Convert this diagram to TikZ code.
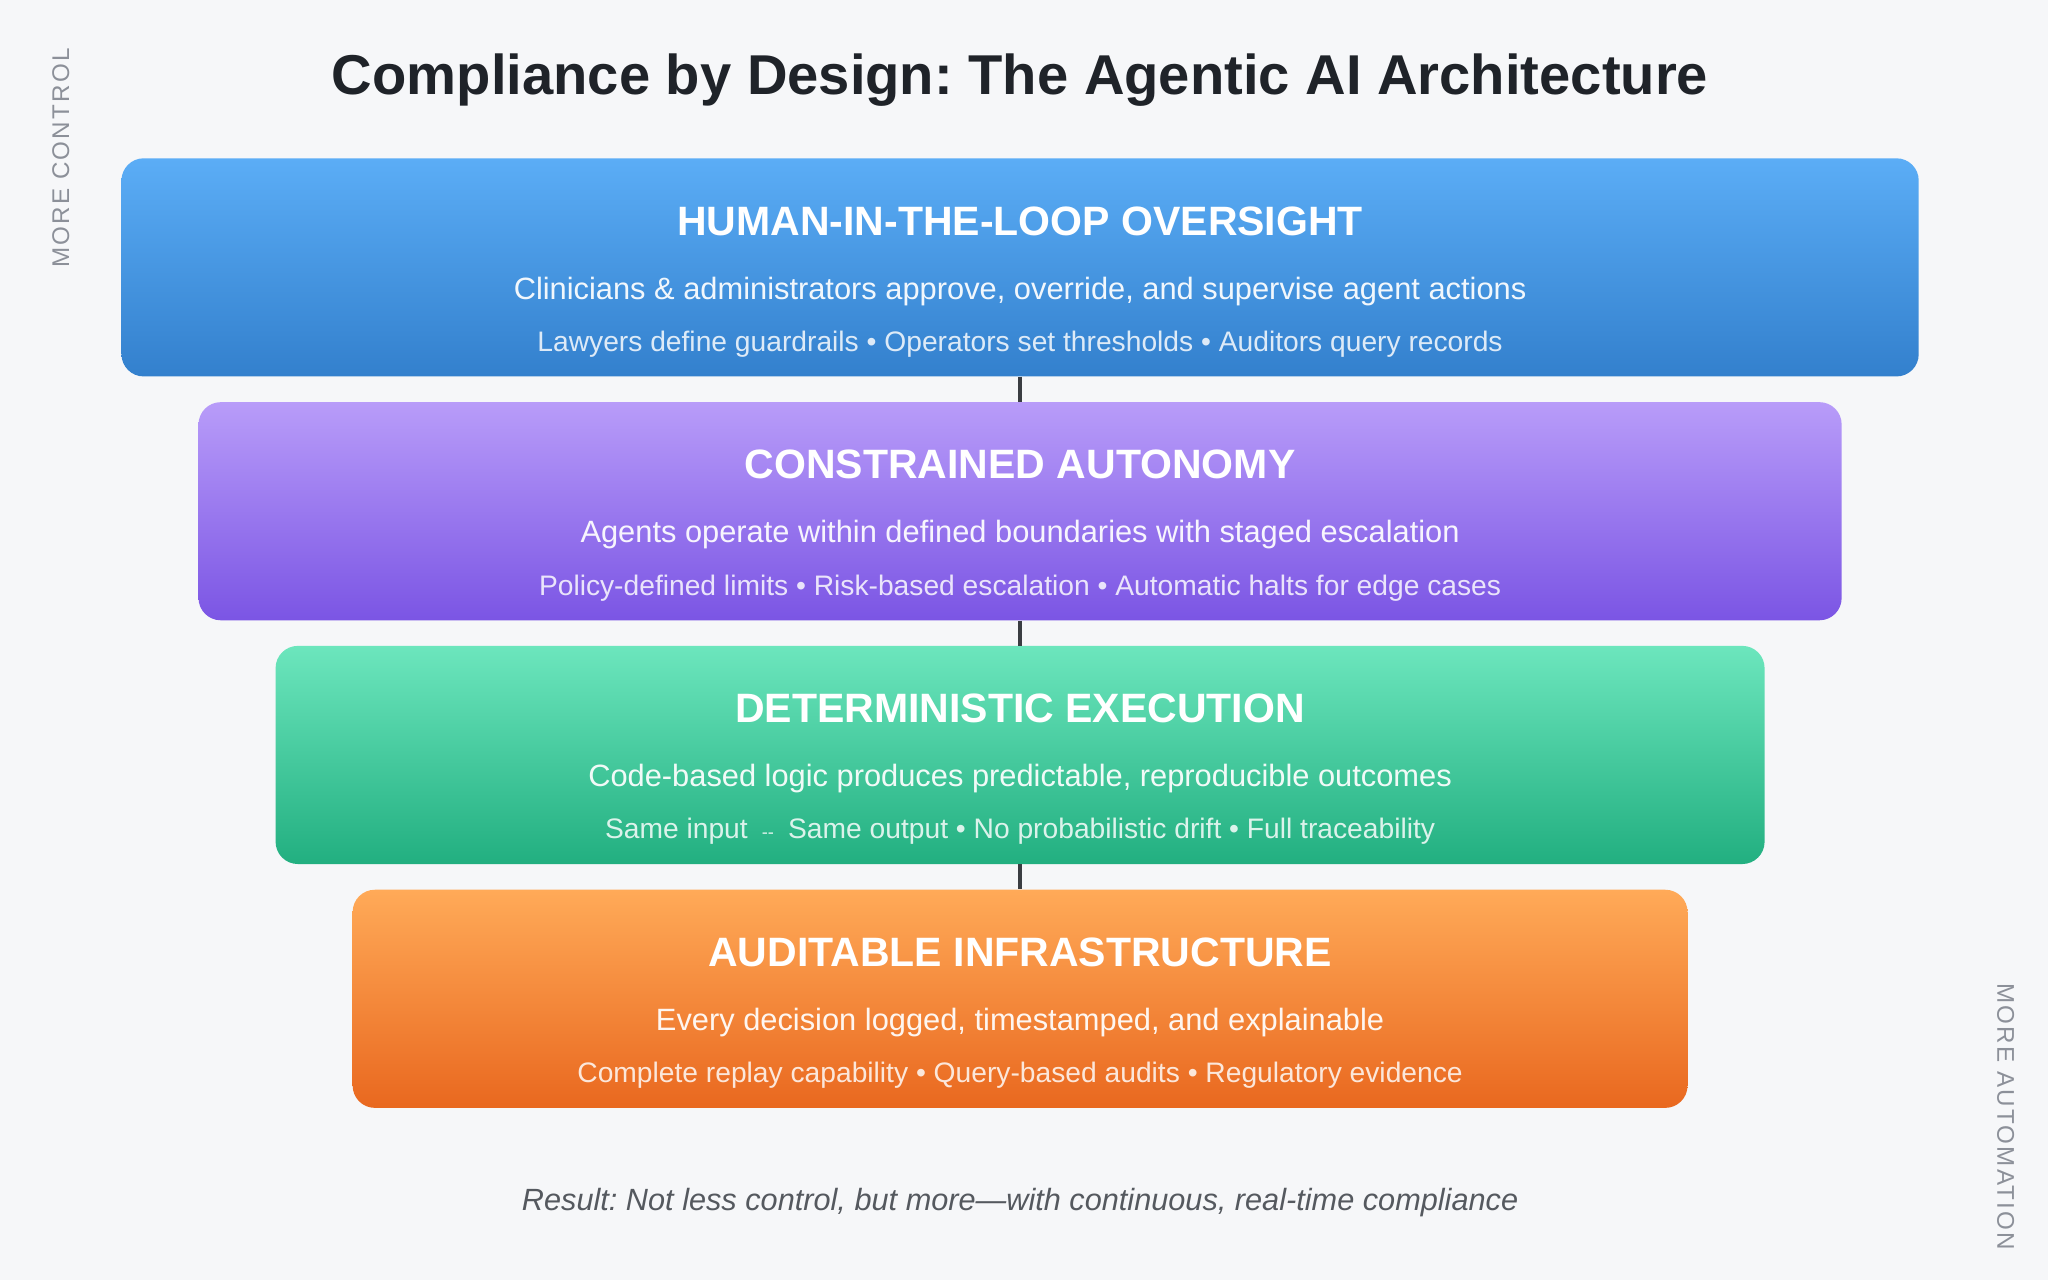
\documentclass[tikz,border=0pt]{standalone}
\usepackage{fontspec}
\setmainfont{Liberation Sans}
\newfontfamily\spacedfont[LetterSpace=9]{Liberation Sans}
\frenchspacing
\definecolor{bgc}{HTML}{F6F7F9}
\definecolor{titlec}{HTML}{1F2329}
\definecolor{sidec}{HTML}{8C9099}
\definecolor{footc}{HTML}{55595F}
\definecolor{linkc}{HTML}{3A3D42}
\definecolor{blueT}{HTML}{5BADF6}
\definecolor{blueB}{HTML}{3380CD}
\definecolor{purpT}{HTML}{B89CF9}
\definecolor{purpB}{HTML}{7B55E4}
\definecolor{greenT}{HTML}{6CE6BD}
\definecolor{greenB}{HTML}{22AF80}
\definecolor{orT}{HTML}{FFAA58}
\definecolor{orB}{HTML}{E9681F}
\tikzset{
  layer/.style={rectangle, rounded corners=17pt, minimum height=167pt, inner sep=0pt, draw=none, anchor=north},
  headtxt/.style={anchor=base, text=white, font=\fontsize{31.4}{35}\selectfont\bfseries, inner sep=0pt},
  desctxt/.style={anchor=base, text=white, text opacity=0.93, font=\fontsize{23.6}{27}\selectfont, inner sep=0pt},
  subtxt/.style={anchor=base, text=white, text opacity=0.83, font=\fontsize{21.6}{25}\selectfont, inner sep=0pt},
  sidetxt/.style={text=sidec, font=\fontsize{18.5}{20}\selectfont\spacedfont, inner sep=0pt},
  link/.style={draw=linkc, line width=2.6pt}
}
\begin{document}
\begin{tikzpicture}[x=1pt,y=-1pt]
\fill[bgc] (0,0) rectangle (1568,980);
\useasboundingbox (0,0) rectangle (1568,980);

\node[anchor=base, text=titlec, font=\fontsize{43}{48}\selectfont\bfseries, inner sep=0pt] (title) at (781,72) {Compliance by Design: The Agentic AI Architecture};

\node[layer, minimum width=1376pt, top color=blueT, bottom color=blueB] (b1) at (781,121) {};
\node[layer, minimum width=1258pt, top color=purpT, bottom color=purpB] (b2) at (781,307.7) {};
\node[layer, minimum width=1140pt, top color=greenT, bottom color=greenB] (b3) at (781,494.3) {};
\node[layer, minimum width=1022pt, top color=orT, bottom color=orB] (b4) at (781,681) {};

\draw[link] (b1.south) -- (b2.north);
\draw[link] (b2.south) -- (b3.north);
\draw[link] (b3.south) -- (b4.north);

\node[headtxt] (h1) at ([yshift=-59pt]b1.north) {HUMAN-IN-THE-LOOP OVERSIGHT};
\node[desctxt] (d1) at ([yshift=-108pt]b1.north) {Clinicians \& administrators approve, override, and supervise agent actions};
\node[subtxt] (s1) at ([yshift=-148pt]b1.north) {Lawyers define guardrails • Operators set thresholds • Auditors query records};

\node[headtxt] (h2) at ([yshift=-59pt]b2.north) {CONSTRAINED AUTONOMY};
\node[desctxt] (d2) at ([yshift=-108pt]b2.north) {Agents operate within defined boundaries with staged escalation};
\node[subtxt] (s2) at ([yshift=-148pt]b2.north) {Policy-defined limits • Risk-based escalation • Automatic halts for edge cases};

\node[headtxt] (h3) at ([yshift=-59pt]b3.north) {DETERMINISTIC EXECUTION};
\node[desctxt] (d3) at ([yshift=-108pt]b3.north) {Code-based logic produces predictable, reproducible outcomes};
\node[subtxt] (s3) at ([yshift=-148pt]b3.north) {Same input\hspace{0.5em}{\fontsize{14}{14}\selectfont -{}-}\hspace{0.5em}Same output • No probabilistic drift • Full traceability};

\node[headtxt] (h4) at ([yshift=-59pt]b4.north) {AUDITABLE INFRASTRUCTURE};
\node[desctxt] (d4) at ([yshift=-108pt]b4.north) {Every decision logged, timestamped, and explainable};
\node[subtxt] (s4) at ([yshift=-148pt]b4.north) {Complete replay capability • Query-based audits • Regulatory evidence};

\node[anchor=base, text=footc, font=\fontsize{23.5}{27}\selectfont\itshape, inner sep=0pt] (foot) at (781,927) {Result: Not less control, but more—with continuous, real-time compliance};

\node[sidetxt, rotate=90] (ctrl) at (46.5,121) {MORE CONTROL};
\node[sidetxt, rotate=-90] (auto) at (1535.5,855) {MORE AUTOMATION};
\end{tikzpicture}
\end{document}
